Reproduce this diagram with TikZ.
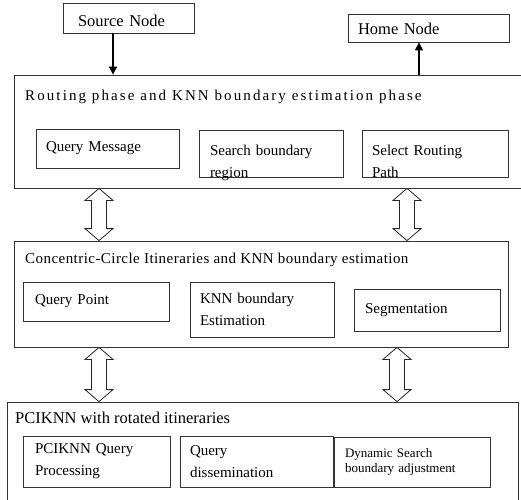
\documentclass[tikz,border=0pt]{standalone}
\usepackage{fontspec}
\setmainfont{Liberation Serif}
\usetikzlibrary{calc,arrows.meta}

% hollow two-headed arrow between two stacked boxes
\newcommand{\twoway}[3]{%
  \draw[dblarrow] let \p1=(#2.south), \p2=(#3.north) in
    (#1pt,\y1) -- (#1pt+14pt,\y1-12pt) -- (#1pt+7.5pt,\y1-12pt) -- (#1pt+7.5pt,\y2+12pt)
    -- (#1pt+14pt,\y2+12pt) -- (#1pt,\y2) -- (#1pt-14pt,\y2+12pt) -- (#1pt-7.5pt,\y2+12pt)
    -- (#1pt-7.5pt,\y1-12pt) -- (#1pt-14pt,\y1-12pt) -- cycle;}
% text that sits lower than its box centre
\newcommand{\lowline}[1]{\raisebox{-9pt}[11pt][4pt]{#1}}

\begin{document}
\begin{tikzpicture}[x=1pt,y=1pt,
  every node/.style={font=\fontsize{15}{22}\selectfont},
  bigbox/.style={draw=black!80, line width=0.8pt, inner sep=0pt},
  inbox/.style={draw=black!80, line width=0.8pt, align=left, inner xsep=11pt, inner ysep=0pt},
  title/.style={anchor=base west, inner sep=0pt},
  arr/.style={line width=1.6pt, -{Triangle[length=8pt,width=8pt]}},
  dblarrow/.style={draw=black!85, line width=0.8pt, fill=white}]
  \useasboundingbox (0,0) rectangle (521,499);
  \clip (0,0) rectangle (521,499);

  \node[inbox, text width=101pt, minimum height=30pt, inner xsep=15pt, text height=18pt, text depth=0pt,
        font=\fontsize{16.5}{22}\selectfont] (src) at (128.5,481) {Source Node};
  \node[inbox, text width=141pt, minimum height=28pt, inner xsep=10pt, text height=14pt, text depth=0pt,
        font=\fontsize{16.5}{22}\selectfont] (home) at (428.5,471) {Home Node};

  % three phase boxes
  \node[bigbox, minimum width=520pt, minimum height=113pt] (b1) at (274,367.5) {};
  \node[bigbox, minimum width=494pt, minimum height=106pt] (b2) at (261,205) {};
  \node[bigbox, minimum width=511pt, minimum height=110pt] (b3) at (262.5,42) {};

  \node[title, font={\fontsize{15}{22}\selectfont\addfontfeatures{LetterSpace=14}}] (t1) at (25,399)
    {Routing phase and KNN boundary estimation phase};
  \node[title, font={\fontsize{15}{22}\selectfont\addfontfeatures{LetterSpace=3}}] (t2) at (25,236)
    {Concentric-Circle Itineraries and KNN boundary estimation};
  \node[title, font=\fontsize{16.5}{22}\selectfont] (t3) at (15,76) {PCIKNN with rotated itineraries};

  \node[inbox, text width=123pt, minimum height=39pt, inner xsep=10pt] (qm) at (107.5,350.5) {Query Message};
  \node[inbox, text width=122pt, minimum height=47pt] (sb) at (271,345.5) {\lowline{Search boundary}\\\lowline{region}};
  \node[inbox, text width=126pt, minimum height=47pt, inner xsep=10pt] (sr) at (435,345.5) {\lowline{Select Routing}\\\lowline{Path}};

  \node[inbox, text width=122pt, minimum height=39pt, inner xsep=12pt] (qp) at (96,197.5) {Query Point};
  \node[inbox, text width=124pt, minimum height=55pt, inner xsep=10pt] (kb) at (262,189.5) {KNN boundary\\Estimation};
  \node[inbox, text width=124pt, minimum height=42pt] (sg) at (427,189) {Segmentation};

  \node[inbox, text width=123pt, minimum height=51pt, inner xsep=12pt] (pq) at (96.5,37.5) {PCIKNN Query\\Processing};
  \node[inbox, text width=133pt, minimum height=51pt, inner xsep=10pt] (qd) at (256.5,37.5) {Query\\dissemination};
  \node[inbox, text width=134pt, minimum height=50pt, font=\fontsize{13}{15}\selectfont] (ds) at (412,37) {Dynamic Search\\boundary adjustment};

  \draw[arr] ([xshift=-15.5pt]src.south) -- ([xshift=-15.5pt]src.south |- b1.north);
  \draw[arr] ([xshift=-9.5pt]home.south |- b1.north) -- ([xshift=-9.5pt]home.south);

  \twoway{99}{b1}{b2}
  \twoway{407}{b1}{b2}
  \twoway{99}{b2}{b3}
  \twoway{397}{b2}{b3}
\end{tikzpicture}
\end{document}
